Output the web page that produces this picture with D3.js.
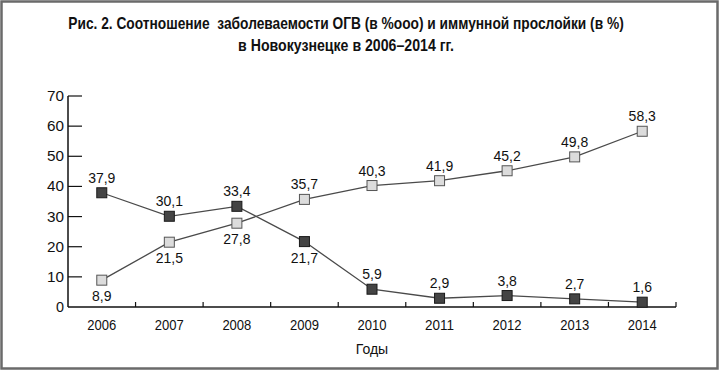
<!DOCTYPE html>
<html lang="ru">
<head>
    <meta charset="UTF-8">
    <title>Рис. 2</title>
    <script src="https://d3js.org/d3.v7.min.js"></script>
    <style>
        body { margin: 0; background: #fff; }
        text { font-family: "Liberation Sans", Arial, sans-serif; fill: #111; }
        .title { font-weight: bold; font-size: 16.5px; }
        .tick-label { font-size: 14px; }
        .val { font-size: 14px; }
    </style>
</head>
<body>
<script>
    // данные
    const years = ["2006", "2007", "2008", "2009", "2010", "2011", "2012", "2013", "2014"];
    const incidence = [37.9, 30.1, 33.4, 21.7, 5.9, 2.9, 3.8, 2.7, 1.6];   // заболеваемость ОГВ
    const immunity = [8.9, 21.5, 27.8, 35.7, 40.3, 41.9, 45.2, 49.8, 58.3]; // иммунная прослойка
    const incidenceBelow = [false, false, false, true, false, false, false, false, false];
    const immunityBelow = [true, true, true, false, false, false, false, false, false];
    const yTicks = [0, 10, 20, 30, 40, 50, 60, 70];
    const titleLines = [
        "Рис. 2. Соотношение  заболеваемости ОГВ (в %ооо) и иммунной прослойки (в %)",
        "в Новокузнецке в 2006–2014 гг."
    ];
    const titleWidths = [556, 216];

    const width = 720, height = 372;
    const margin = { top: 96, right: 44, bottom: 65, left: 68 };

    const svg = d3.select("body").append("svg")
        .attr("width", width)
        .attr("height", height);

    // рамка
    svg.append("rect")
        .attr("x", 1.5).attr("y", 1.5)
        .attr("width", width - 4).attr("height", height - 5)
        .attr("fill", "none")
        .attr("stroke", "#6a6a6a")
        .attr("stroke-width", 2.5);

    // заголовок: сжимаем по горизонтали через transform
    svg.selectAll(".title").data(titleLines).enter()
        .append("text")
        .attr("class", "title")
        .attr("x", 0)
        .attr("y", 0)
        .attr("text-anchor", "middle")
        .style("white-space", "pre")
        .text(d => d)
        .each(function(d, i) {
            const w = this.getComputedTextLength();
            const k = titleWidths[i] / w;
            d3.select(this).attr("transform", `translate(346,${29 + i * 22}) scale(${k},1)`);
        });

    const x = d3.scaleBand()
        .domain(years)
        .range([margin.left, width - margin.right]);

    const y = d3.scaleLinear()
        .domain([0, 70])
        .range([height - margin.bottom, margin.top]);

    const cx = d => x(d) + x.bandwidth() / 2;

    // ось Y
    const gy = svg.append("g");
    gy.append("line")
        .attr("x1", margin.left).attr("x2", margin.left)
        .attr("y1", y(70)).attr("y2", y(0))
        .attr("stroke", "#111").attr("stroke-width", 1.5);
    gy.selectAll(".yt").data(yTicks.filter(d => d > 0)).enter()
        .append("line")
        .attr("x1", margin.left).attr("x2", margin.left + 14)
        .attr("y1", d => y(d)).attr("y2", d => y(d))
        .attr("stroke", "#111").attr("stroke-width", 1.2);
    gy.selectAll(".yl").data(yTicks).enter()
        .append("text")
        .attr("class", "tick-label")
        .attr("x", margin.left - 4)
        .attr("y", d => y(d) + 5)
        .attr("text-anchor", "end")
        .attr("textLength", d => d === 0 ? 8 : 17)
        .attr("lengthAdjust", "spacingAndGlyphs")
        .text(d => d);

    // ось X
    const gx = svg.append("g");
    gx.append("line")
        .attr("x1", margin.left).attr("x2", width - margin.right)
        .attr("y1", y(0)).attr("y2", y(0))
        .attr("stroke", "#111").attr("stroke-width", 1.5);
    gx.selectAll(".xt").data(years).enter()
        .append("line")
        .attr("x1", d => x(d) + x.bandwidth()).attr("x2", d => x(d) + x.bandwidth())
        .attr("y1", y(0)).attr("y2", y(0) - 5)
        .attr("stroke", "#111").attr("stroke-width", 1.2);
    gx.selectAll(".xl").data(years).enter()
        .append("text")
        .attr("class", "tick-label")
        .attr("x", cx)
        .attr("y", y(0) + 23)
        .attr("text-anchor", "middle")
        .attr("textLength", 29)
        .attr("lengthAdjust", "spacingAndGlyphs")
        .text(d => d);

    svg.append("text")
        .attr("class", "tick-label")
        .attr("x", cx("2010"))
        .attr("y", y(0) + 47)
        .attr("text-anchor", "middle")
        .text("Годы");

    // линии
    const line = d3.line()
        .x((d, i) => cx(years[i]))
        .y(d => y(d));

    const series = [
        { values: incidence, below: incidenceBelow, fill: "#444", stroke: "#1a1a1a" },
        { values: immunity, below: immunityBelow, fill: "#dcdcdc", stroke: "#555" }
    ];

    series.forEach(s => {
        svg.append("path")
            .attr("d", line(s.values))
            .attr("fill", "none")
            .attr("stroke", "#4a4a4a")
            .attr("stroke-width", 1.3);
    });

    series.forEach(s => {
        svg.append("g").selectAll("rect").data(s.values).enter()
            .append("rect")
            .attr("x", (d, i) => cx(years[i]) - 5)
            .attr("y", d => y(d) - 5)
            .attr("width", 10).attr("height", 10)
            .attr("fill", s.fill)
            .attr("stroke", s.stroke)
            .attr("stroke-width", 1);

        svg.append("g").selectAll("text").data(s.values).enter()
            .append("text")
            .attr("class", "val")
            .attr("x", (d, i) => cx(years[i]))
            .attr("y", (d, i) => s.below[i] ? y(d) + 21 : y(d) - 10)
            .attr("text-anchor", "middle")
            .text(d => d.toFixed(1).replace(".", ","));
    });
</script>
</body>
</html>
